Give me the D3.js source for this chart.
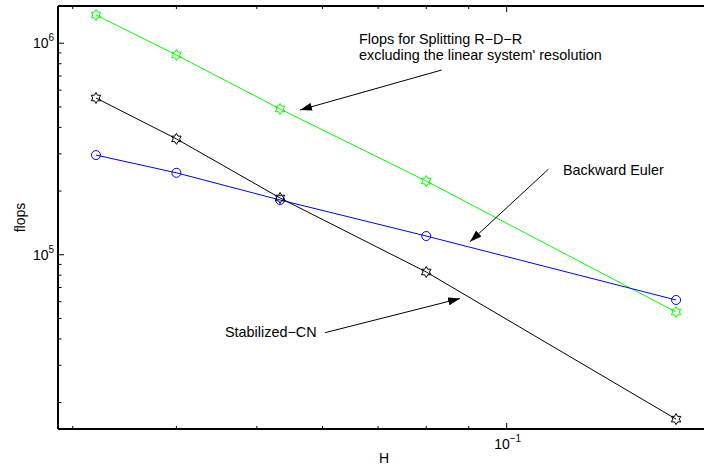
<!DOCTYPE html>
<html>
<head>
<meta charset="utf-8">
<script src="https://cdn.jsdelivr.net/npm/d3@7"></script>
<style>
  html, body { margin: 0; padding: 0; background: #fff; }
  svg { display: block; font-family: "Liberation Sans", Arial, Helvetica, sans-serif; }
</style>
</head>
<body>
<svg id="chart" width="704" height="468"></svg>
<script>
// ---- data ----
const H = [0.032, 0.04, 0.05333, 0.08, 0.16];
const flopsSplitting = [1.36e6, 8.80e5, 4.89e5, 2.23e5, 5.36e4];
const flopsStabilizedCN = [5.51e5, 3.53e5, 1.855e5, 8.29e4, 1.67e4];
const flopsBackwardEuler = [2.96e5, 2.44e5, 1.815e5, 1.226e5, 6.11e4];
const xMajorTicks = [0.1];
const yMajorTicks = [1e5, 1e6];
const xTickLabels = [{base: "10", exp: "−1"}];
const yTickLabels = [{base: "10", exp: "5"}, {base: "10", exp: "6"}];
const seriesNames = ["Flops for Splitting R−D−R", "Backward Euler", "Stabilized−CN"];

(function () {
const svg = d3.select("#chart");
const pL = 58, pR = 756.5, pT = 6, pB = 429;

const x = d3.scaleLog().domain([0.0288, 0.2]).range([pL, pR]);
const y = d3.scaleLog().domain([1.5e4, 1.5e6]).range([pB, pT]);

const xMinor = [];
for (let d = 0.01; d < 1; d *= 10) for (let k = 1; k <= 9; k++) {
  const v = +(k * d).toPrecision(3);
  if (v >= x.domain()[0] && v <= x.domain()[1] && !xMajorTicks.includes(v)) xMinor.push(v);
}
const yMinor = [];
for (let d = 1e4; d < 1e7; d *= 10) for (let k = 1; k <= 9; k++) {
  const v = k * d;
  if (v >= y.domain()[0] && v <= y.domain()[1] && !yMajorTicks.includes(v)) yMinor.push(v);
}

const axes = svg.append("g").attr("stroke", "#000").attr("fill", "none");
axes.append("line").attr("x1", pL).attr("x2", pR).attr("y1", pB).attr("y2", pB).attr("stroke-width", 2);
axes.append("line").attr("x1", pL).attr("x2", pR).attr("y1", pT).attr("y2", pT).attr("stroke-width", 2);
axes.append("line").attr("x1", pL).attr("x2", pL).attr("y1", pT).attr("y2", pB).attr("stroke-width", 2);

xMajorTicks.forEach(v => {
  axes.append("line").attr("x1", x(v)).attr("x2", x(v)).attr("y1", pB).attr("y2", pB - 6).attr("stroke-width", 1);
  axes.append("line").attr("x1", x(v)).attr("x2", x(v)).attr("y1", pT).attr("y2", pT + 6).attr("stroke-width", 1);
});
xMinor.forEach(v => {
  axes.append("line").attr("x1", x(v)).attr("x2", x(v)).attr("y1", pB).attr("y2", pB - 3).attr("stroke-width", 1);
  axes.append("line").attr("x1", x(v)).attr("x2", x(v)).attr("y1", pT).attr("y2", pT + 3).attr("stroke-width", 1);
});
yMajorTicks.forEach(v => {
  axes.append("line").attr("x1", pL).attr("x2", pL + 6).attr("y1", y(v)).attr("y2", y(v)).attr("stroke-width", 1);
});
yMinor.forEach(v => {
  axes.append("line").attr("x1", pL).attr("x2", pL + 3.5).attr("y1", y(v)).attr("y2", y(v)).attr("stroke-width", 1);
});

const tl = svg.append("g").attr("fill", "#000");
yMajorTicks.forEach((v, i) => {
  const t = tl.append("text").attr("x", 33).attr("y", y(v) + 5).attr("font-size", 14);
  t.append("tspan").text(yTickLabels[i].base);
  t.append("tspan").attr("dy", -7).attr("font-size", 10).text(yTickLabels[i].exp);
});
xMajorTicks.forEach((v, i) => {
  const t = tl.append("text").attr("x", x(v) - 12.5).attr("y", 449).attr("font-size", 14);
  t.append("tspan").text(xTickLabels[i].base);
  t.append("tspan").attr("dy", -7).attr("font-size", 10).text(xTickLabels[i].exp);
});

tl.append("text").attr("x", 384).attr("y", 463).attr("text-anchor", "middle").attr("font-size", 14).text("H");
tl.append("text").attr("transform", "translate(25,217.5) rotate(-90)").attr("text-anchor", "middle").attr("font-size", 14).text("flops");

const line = d3.line().x(d => x(d[0])).y(d => y(d[1]));
function hexagram(r) {
  const pts = [];
  for (let i = 0; i < 12; i++) {
    const a = -Math.PI / 2 + i * Math.PI / 6;
    const rr = i % 2 === 0 ? r : r / Math.sqrt(3);
    pts.push([rr * Math.cos(a), rr * Math.sin(a)]);
  }
  return "M" + pts.map(p => p[0].toFixed(2) + "," + p[1].toFixed(2)).join("L") + "Z";
}
const series = [
  {vals: flopsSplitting, color: "#00ff00", marker: "star"},
  {vals: flopsBackwardEuler, color: "#0000ff", marker: "circle"},
  {vals: flopsStabilizedCN, color: "#000000", marker: "star"}
];
series.forEach(s => {
  const pts = H.map((h, i) => [h, s.vals[i]]);
  svg.append("path").attr("d", line(pts)).attr("fill", "none").attr("stroke", s.color).attr("stroke-width", 1);
  const g = svg.append("g");
  pts.forEach(p => {
    if (s.marker === "circle") {
      g.append("circle").attr("cx", x(p[0])).attr("cy", y(p[1])).attr("r", 4.5)
        .attr("fill", "none").attr("stroke", s.color).attr("stroke-width", 1);
    } else {
      g.append("path").attr("transform", `translate(${x(p[0])},${y(p[1])})`).attr("d", hexagram(5.5))
        .attr("fill", "none").attr("stroke", s.color).attr("stroke-width", 1);
    }
  });
});

const defs = svg.append("defs");
defs.append("marker").attr("id", "arr").attr("viewBox", "0 0 12 8").attr("refX", 12).attr("refY", 4)
  .attr("markerWidth", 12).attr("markerHeight", 8).attr("markerUnits", "userSpaceOnUse").attr("orient", "auto")
  .append("path").attr("d", "M0,0L12,4L0,8Z").attr("fill", "#000");

const ann = svg.append("g").attr("font-size", 14.4).attr("fill", "#000");
ann.append("text").attr("x", 359).attr("y", 44).text(seriesNames[0]);
ann.append("text").attr("x", 359).attr("y", 59.5).text("excluding the linear system' resolution");
ann.append("text").attr("x", 563).attr("y", 175).text(seriesNames[1]);
ann.append("text").attr("x", 225).attr("y", 337).text(seriesNames[2]);

const arrows = [
  [441.7, 70, 300, 110],
  [548.3, 169.3, 470, 241.7],
  [325, 332.7, 460, 298.5]
];
arrows.forEach(a => {
  svg.append("line").attr("x1", a[0]).attr("y1", a[1]).attr("x2", a[2]).attr("y2", a[3])
    .attr("stroke", "#000").attr("stroke-width", 1).attr("marker-end", "url(#arr)");
});
})();
</script>
</body>
</html>
